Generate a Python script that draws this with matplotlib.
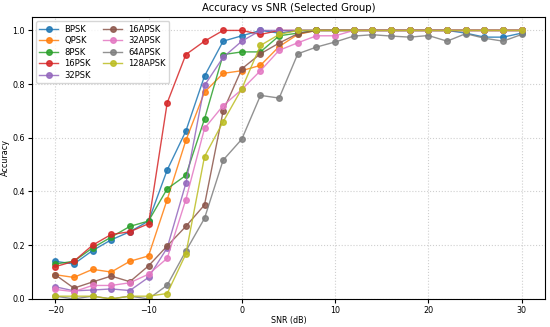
import matplotlib
matplotlib.use("Agg")
import matplotlib.pyplot as plt

snr = list(range(-20, 31, 2))

bpsk    = [0.14, 0.13, 0.18, 0.22, 0.25, 0.29, 0.48, 0.625, 0.83, 0.96, 0.98, 1.0, 0.99, 1.0, 1.0, 1.0, 1.0, 1.0, 1.0, 1.0, 1.0, 1.0, 0.99, 0.975, 0.975, 0.99]
qpsk    = [0.09, 0.08, 0.11, 0.10, 0.14, 0.16, 0.37, 0.59, 0.77, 0.84, 0.85, 0.87, 0.94, 0.985, 1.0, 1.0, 1.0, 1.0, 1.0, 1.0, 1.0, 1.0, 1.0, 1.0, 1.0, 1.0]
psk8    = [0.13, 0.14, 0.19, 0.23, 0.27, 0.29, 0.41, 0.46, 0.67, 0.91, 0.92, 0.92, 0.98, 0.99, 1.0, 1.0, 1.0, 1.0, 1.0, 1.0, 1.0, 1.0, 1.0, 1.0, 1.0, 1.0]
psk16   = [0.12, 0.14, 0.20, 0.24, 0.25, 0.28, 0.73, 0.91, 0.96, 1.0, 1.0, 0.985, 1.0, 1.0, 1.0, 1.0, 1.0, 1.0, 1.0, 1.0, 1.0, 1.0, 1.0, 1.0, 1.0, 1.0]
psk32   = [0.045, 0.03, 0.033, 0.037, 0.031, 0.08, 0.19, 0.43, 0.795, 0.90, 0.96, 1.0, 1.0, 1.0, 1.0, 1.0, 1.0, 1.0, 1.0, 1.0, 1.0, 1.0, 1.0, 1.0, 1.0, 1.0]
apsk16  = [0.09, 0.04, 0.063, 0.085, 0.064, 0.123, 0.197, 0.27, 0.35, 0.70, 0.857, 0.913, 0.953, 0.988, 1.0, 1.0, 1.0, 1.0, 1.0, 1.0, 1.0, 1.0, 1.0, 1.0, 1.0, 1.0]
apsk32  = [0.035, 0.027, 0.05, 0.05, 0.06, 0.092, 0.151, 0.37, 0.635, 0.72, 0.78, 0.85, 0.926, 0.954, 0.98, 0.98, 1.0, 1.0, 1.0, 1.0, 1.0, 1.0, 1.0, 1.0, 1.0, 1.0]
apsk64  = [0.01, 0.0, 0.01, 0.0, 0.01, 0.0, 0.051, 0.178, 0.30, 0.517, 0.595, 0.758, 0.748, 0.913, 0.938, 0.957, 0.979, 0.984, 0.979, 0.975, 0.981, 0.96, 0.988, 0.971, 0.96, 0.985]
apsk128 = [0.01, 0.01, 0.01, 0.0, 0.01, 0.01, 0.02, 0.167, 0.53, 0.66, 0.783, 0.944, 0.985, 1.0, 1.0, 1.0, 1.0, 1.0, 1.0, 1.0, 1.0, 1.0, 1.0, 1.0, 1.0, 1.0]

labels = ["BPSK", "QPSK", "8PSK", "16PSK", "32PSK", "16APSK", "32APSK", "64APSK", "128APSK"]
series = [bpsk, qpsk, psk8, psk16, psk32, apsk16, apsk32, apsk64, apsk128]
colors = ["tab:blue", "tab:orange", "tab:green", "tab:red", "tab:purple",
          "tab:brown", "tab:pink", "tab:gray", "tab:olive"]

fig, ax = plt.subplots(figsize=(5.5, 3.27), dpi=100)
for lab, ys, c in zip(labels, series, colors):
    ax.plot(snr, ys, marker="o", markersize=4, linewidth=1.0, color=c,
            alpha=0.85, label=lab)

ax.set_ylim(0, 1.05)
ax.set_title("Accuracy vs SNR (Selected Group)", fontsize=7.3, pad=4)
ax.set_xlabel("SNR (dB)", fontsize=5.8, labelpad=1)
ax.set_ylabel("Accuracy", fontsize=5.8, labelpad=2)
ax.tick_params(labelsize=5.8, length=3, pad=2)
ax.grid(True, linestyle=":", alpha=0.6)
ax.legend(ncol=2, fontsize=6, loc="upper left", labelspacing=0.3,
          handlelength=2.2, columnspacing=1.5)
fig.subplots_adjust(left=0.058, right=0.991, top=0.948, bottom=0.086)
fig.savefig("out.png", dpi=100)
